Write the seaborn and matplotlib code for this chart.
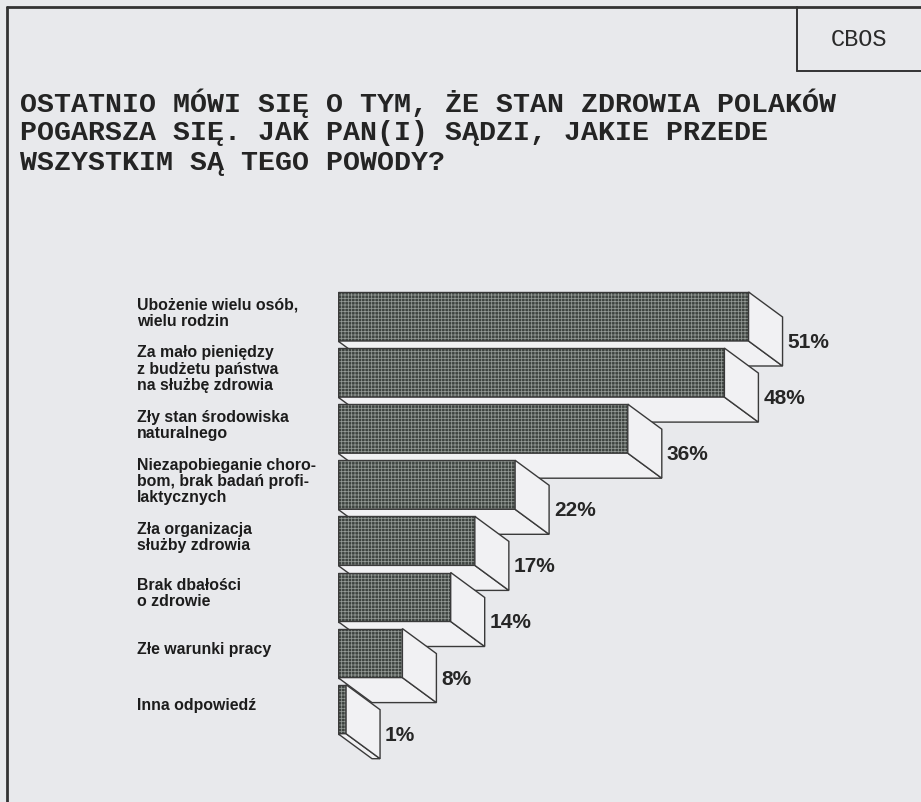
import matplotlib
matplotlib.use("Agg")
import matplotlib.pyplot as plt
from matplotlib.patches import Polygon, Rectangle
from matplotlib.lines import Line2D
import seaborn as sns
import pandas as pd

# Survey answers and shares of respondents (%)
reasons = [
    "Ubożenie wielu osób,\nwielu rodzin",
    "Za mało pieniędzy\nz budżetu państwa\nna służbę zdrowia",
    "Zły stan środowiska\nnaturalnego",
    "Niezapobieganie choro-\nbom, brak badań profi-\nlaktycznych",
    "Zła organizacja\nsłużby zdrowia",
    "Brak dbałości\no zdrowie",
    "Złe warunki pracy",
    "Inna odpowiedź",
]
shares = [51, 48, 36, 22, 17, 14, 8, 1]
title_lines = [
    "OSTATNIO MÓWI SIĘ O TYM, ŻE STAN ZDROWIA POLAKÓW",
    "POGARSZA SIĘ. JAK PAN(I) SĄDZI, JAKIE PRZEDE",
    "WSZYSTKIM SĄ TEGO POWODY?",
]
source = "CBOS"

sns.set_theme(style="white")
plt.rcParams["font.family"] = ["Liberation Sans", "DejaVu Sans"]
plt.rcParams["hatch.linewidth"] = 0.55

BG = "#e8e9ec"
DARK = "#3d433f"
DOTS = "#949a96"
SIDE = "#f1f1f3"
EDGE = "#3a3a3a"
INK = "#1c1c1c"

W, H = 921, 803
fig = plt.figure(figsize=(W / 100, H / 100), dpi=100)
fig.patch.set_facecolor(BG)

# Axes geometry in pixels: 0 % at x=338, 8.05 px per percent; rows 56.1 px apart
px_per_pct = 8.05
row_px = 56.1
ax_left, ax_right, ax_top, ax_bottom = 338, 900, 250, 790
ax = fig.add_axes([ax_left / W, (H - ax_bottom) / H,
                   (ax_right - ax_left) / W, (ax_bottom - ax_top) / H])
ax.set_facecolor(BG)

df = pd.DataFrame({"reason": reasons, "share": shares})
bar_h = 49 / row_px
sns.barplot(data=df, x="share", y="reason", orient="h", ax=ax,
            color=DARK, edgecolor=DOTS, linewidth=0, hatch="+++++",
            width=bar_h, saturation=1)

ax.set_xlim(0, (ax_right - ax_left) / px_per_pct)
c0 = 317.5
ax.set_ylim((ax_bottom - c0) / row_px, (ax_top - c0) / row_px)
ax.axis("off")

# Depth of the pseudo-3D extrusion
dx = 34 / px_per_pct
dy = 25 / row_px

for i, (patch, v) in enumerate(zip(ax.patches, shares)):
    top = i - bar_h / 2
    bot = i + bar_h / 2
    patch.set_zorder(10 + 2 * i)
    ax.add_patch(Rectangle((0, top), v, bar_h, fill=False, edgecolor=EDGE,
                           linewidth=1.0, zorder=10 + 2 * i))
    end_face = Polygon([(v, top), (v + dx, top + dy), (v + dx, bot + dy), (v, bot)],
                       closed=True, facecolor=SIDE, edgecolor=EDGE,
                       linewidth=1.0, zorder=11 + 2 * i)
    low_face = Polygon([(0, bot), (v, bot), (v + dx, bot + dy), (dx, bot + dy)],
                       closed=True, facecolor=SIDE, edgecolor=EDGE,
                       linewidth=1.0, zorder=11 + 2 * i)
    ax.add_patch(low_face)
    ax.add_patch(end_face)
    ax.text(v + dx + 5 / px_per_pct, i + dy, f"{v}%", ha="left", va="center",
            fontsize=15, fontweight="bold", color="#262626", zorder=30)
    ax.text((137 - ax_left) / px_per_pct, i - 0.08, reasons[i], ha="left",
            va="center", fontsize=11.4, fontweight="bold", color=INK,
            linespacing=1.1, clip_on=False, zorder=30)

# Title in a typewriter face
for k, line in enumerate(title_lines):
    fig.text(20 / W, 1 - (103 + 30 * k) / H, line, ha="left", va="center",
             fontsize=20.3, fontweight="bold", color="#242424",
             family=["Liberation Mono", "DejaVu Sans Mono"])

fig.text(859 / W, 1 - 40 / H, source, ha="center", va="center", fontsize=17,
         color="#2a2a2a", family=["Liberation Mono", "DejaVu Sans Mono"])

# Page frame and source box
def fig_line(x0, y0, x1, y1, lw=2.0):
    fig.add_artist(Line2D([x0 / W, x1 / W], [1 - y0 / H, 1 - y1 / H],
                          color="#333333", linewidth=lw, transform=fig.transFigure))

fig_line(7, 8, W, 8)
fig_line(7, 8, 7, H)
fig_line(797, 8, 797, 72, lw=1.4)
fig_line(797, 72, W, 72, lw=1.4)

fig.savefig("out.png", dpi=100, facecolor=BG)
